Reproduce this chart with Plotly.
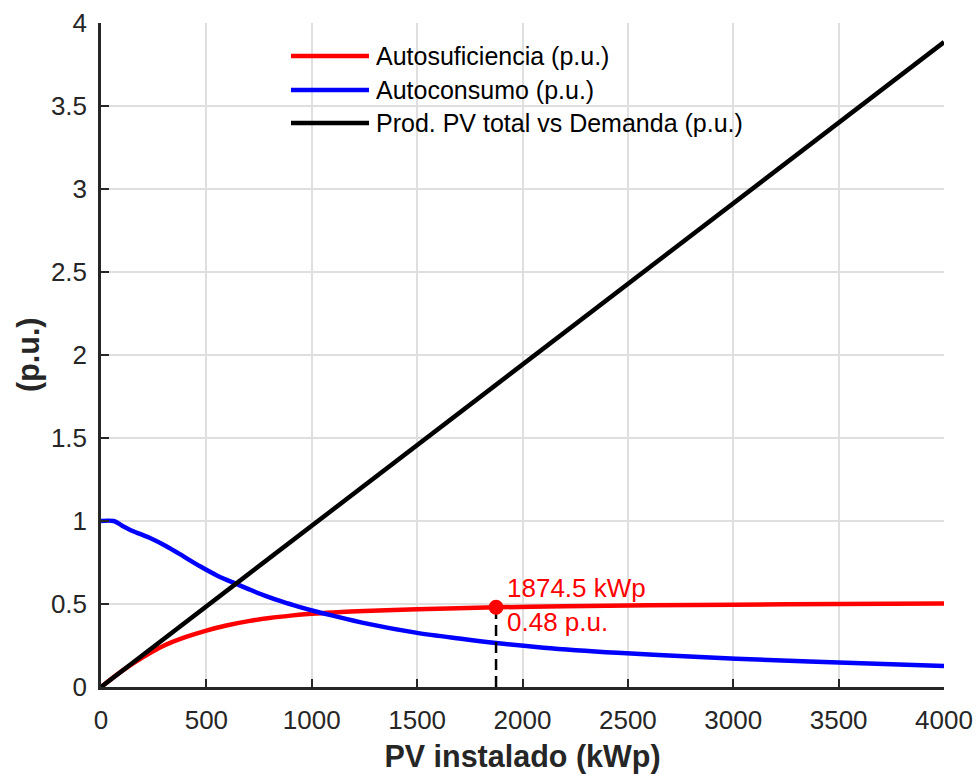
import plotly.graph_objects as go

# ---- data ----
x_red = [0, 100, 200, 300, 400, 500, 600, 700, 800, 900, 1000, 1100, 1250, 1500, 1874.5, 2200, 2600, 3000, 3500, 4000]
y_red = [0, 0.097, 0.18, 0.25, 0.3, 0.34, 0.372, 0.397, 0.416, 0.43, 0.441, 0.449, 0.458, 0.468, 0.48, 0.486, 0.492, 0.496, 0.5, 0.503]

x_blue = [0, 60, 100, 150, 230, 310, 390, 470, 550, 640, 700, 780, 860, 940, 1020, 1100, 1250, 1500, 1700, 1875,
          2100, 2450, 2840, 3200, 3500, 4000]
y_blue = [1.0, 1.0, 0.972, 0.94, 0.899, 0.848, 0.788, 0.727, 0.672, 0.622, 0.59, 0.549, 0.514, 0.483, 0.455, 0.43,
          0.385, 0.326, 0.292, 0.265, 0.237, 0.206, 0.18, 0.161, 0.147, 0.127]

x_black = [0, 4000]
y_black = [0, 3.885]

x_opt = 1874.5
y_opt = 0.48

names = ["Autosuficiencia (p.u.)", "Autoconsumo (p.u.)", "Prod. PV total vs Demanda (p.u.)"]
colors = ["#ff0000", "#0000ff", "#000000"]

x_ticks = [0, 500, 1000, 1500, 2000, 2500, 3000, 3500, 4000]
x_ticktext = ["0", "500", "1000", "1500", "2000", "2500", "3000", "3500", "4000"]
y_ticks = [0, 0.5, 1, 1.5, 2, 2.5, 3, 3.5, 4]
y_ticktext = ["0", "0.5", "1", "1.5", "2", "2.5", "3", "3.5", "4"]

FONT = "Liberation Sans, Arial, Helvetica, sans-serif"
AX = "#262626"
GRID = "#dfdfdf"
LW = 4.5

fig = go.Figure()
fig.add_trace(go.Scatter(x=x_red, y=y_red, mode="lines", line=dict(color=colors[0], width=LW, shape="spline", smoothing=0.8), name=names[0], showlegend=False))
fig.add_trace(go.Scatter(x=x_blue, y=y_blue, mode="lines", line=dict(color=colors[1], width=LW, shape="spline", smoothing=0.8), name=names[1], showlegend=False))
fig.add_trace(go.Scatter(x=x_black, y=y_black, mode="lines", line=dict(color=colors[2], width=LW), name=names[2], showlegend=False))
# dashed drop line and marker
fig.add_trace(go.Scatter(x=[x_opt, x_opt], y=[0, y_opt], mode="lines", line=dict(color="#000000", width=2.5, dash="11px,6px"), showlegend=False))
fig.add_trace(go.Scatter(x=[x_opt], y=[y_opt], mode="markers", marker=dict(color="#ff0000", size=15), showlegend=False))

fig.add_annotation(x=x_opt, y=y_opt, text=f"{x_opt} kWp", showarrow=False, xanchor="left", yanchor="middle",
                   xshift=9, yshift=19, font=dict(family=FONT, size=26, color="#ff0000"))
fig.add_annotation(x=x_opt, y=y_opt, text=f"{y_opt} p.u.", showarrow=False, xanchor="left", yanchor="middle",
                   xshift=9, yshift=-15, font=dict(family=FONT, size=26, color="#ff0000"))

# ---- manual legend (paper coords) ----
W, H = 978, 774
L, R, T, B = 101, 34, 23, 87
pw, ph = W - L - R, H - T - B
def px2paper(px, py):
    return (px - L) / pw, (H - B - py) / ph
leg_rows = [56, 90, 123]
for name, col, ry in zip(names, colors, leg_rows):
    x0, y0 = px2paper(291, ry)
    x1, _ = px2paper(369, ry)
    fig.add_shape(type="line", xref="paper", yref="paper", x0=x0, x1=x1, y0=y0, y1=y0, line=dict(color=col, width=LW))
    tx, _ = px2paper(374, ry)
    fig.add_annotation(xref="paper", yref="paper", x=tx, y=y0, text=name, showarrow=False, xanchor="left", yanchor="middle",
                       font=dict(family=FONT, size=25, color="#000000"))

# y-axis title
ytx, yty = px2paper(28, 355)
fig.add_annotation(xref="paper", yref="paper", x=ytx, y=yty, text="<b>(p.u.)</b>", showarrow=False, textangle=-90,
                   xanchor="center", yanchor="middle", font=dict(family=FONT, size=30.5, color=AX))

fig.update_layout(
    width=W, height=H,
    margin=dict(l=L, r=R, t=T, b=B, autoexpand=False),
    paper_bgcolor="white", plot_bgcolor="white",
    font=dict(family=FONT, color=AX),
)
fig.update_xaxes(range=[0, 4000], tickvals=x_ticks, ticktext=x_ticktext, ticks="inside", ticklen=8, tickwidth=2, tickcolor=AX,
                 showline=True, linecolor=AX, linewidth=2.5, showgrid=True, gridcolor=GRID, gridwidth=2, zeroline=False,
                 automargin=False, ticklabelstandoff=8,
                 tickfont=dict(family=FONT, size=26, color=AX),
                 title=dict(text="<b>PV instalado (kWp)</b>", font=dict(family=FONT, size=30.5, color=AX), standoff=14))
fig.update_yaxes(range=[0, 4], tickvals=y_ticks, ticktext=y_ticktext, ticks="inside", ticklen=8, tickwidth=2, tickcolor=AX,
                 showline=True, linecolor=AX, linewidth=2.5, showgrid=True, gridcolor=GRID, gridwidth=2, zeroline=False,
                 automargin=False, ticklabelstandoff=6,
                 tickfont=dict(family=FONT, size=26, color=AX))

fig.write_html("out.html")
